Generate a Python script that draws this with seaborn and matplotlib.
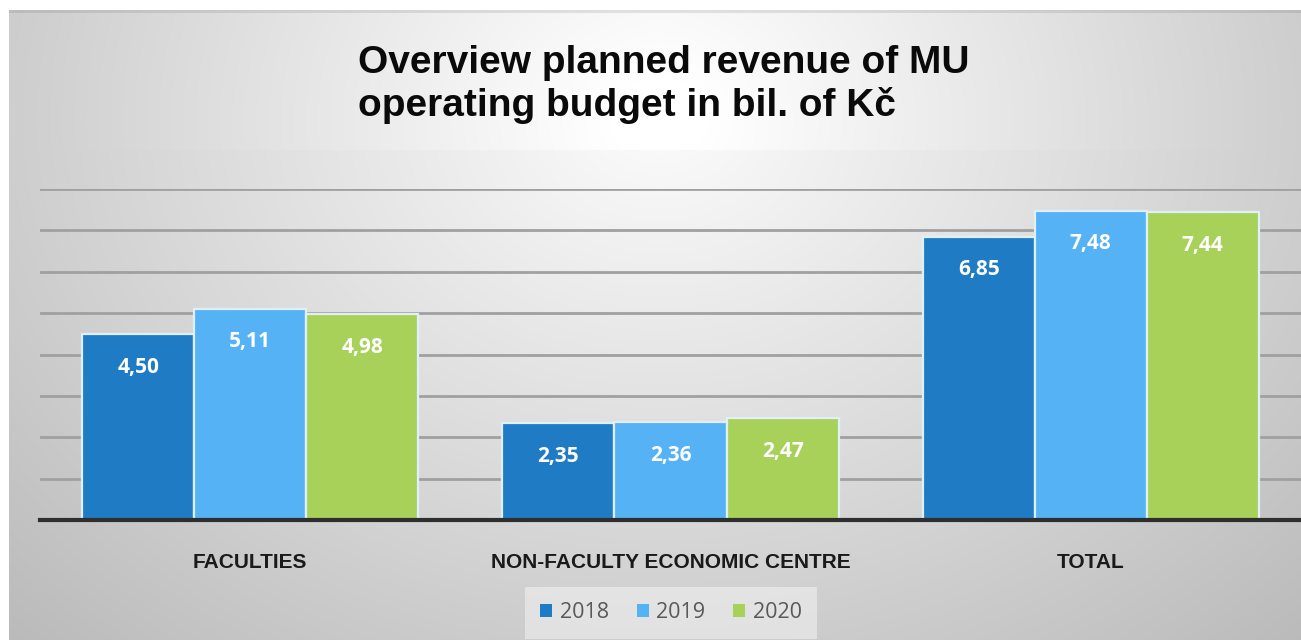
import numpy as np
import pandas as pd
import matplotlib
matplotlib.use("Agg")
import matplotlib.pyplot as plt
import seaborn as sns
from matplotlib.patches import Patch

# ---- data ----
categories = ["FACULTIES", "NON-FACULTY ECONOMIC CENTRE", "TOTAL"]
years = ["2018", "2019", "2020"]
v2018 = [4.50, 2.35, 6.85]
v2019 = [5.11, 2.36, 7.48]
v2020 = [4.98, 2.47, 7.44]
title_lines = ["Overview planned revenue of MU", "operating budget in bil. of Kč"]

colors = ["#1F7BC3", "#55B2F5", "#A8D15A"]

df = pd.DataFrame({
    "category": categories * 3,
    "year": [y for y in years for _ in categories],
    "value": v2018 + v2019 + v2020,
})

sns.set_theme(style="white")
plt.rcParams["font.family"] = ["Liberation Sans", "DejaVu Sans"]

W, H = 1301, 640
fig = plt.figure(figsize=(W / 100, H / 100), dpi=100)
fig.patch.set_facecolor("white")

# ---- background gradient ----
bg = fig.add_axes([9 / W, 0, (W - 9) / W, (H - 10) / H])
bg.set_axis_off()
gh, gw = H - 10, W - 9
yy, xx = np.mgrid[0:gh, 0:gw]
cx, cy = 650, 110
d = np.sqrt(((xx - cx) / 820.0) ** 2 + ((yy - cy) / 640.0) ** 2)
val = 252 - 58 * np.clip(d, 0, 1.25)
band = (yy < 140) & (yy > 2)
hfade = np.clip(1 - np.abs(xx - cx) / 620.0, 0, 1)
val = np.where(band, val + 7 * hfade, val)
val[:3, :] -= 18
val = np.clip(val, 0, 255) / 255.0
img = np.dstack([val, val, val])
bg.imshow(img, aspect="auto", extent=[0, gw, gh, 0], interpolation="bilinear")
bg.set_xlim(0, gw)
bg.set_ylim(gh, 0)

# ---- main axes ----
ax = fig.add_axes([40 / W, 120 / H, (W - 40) / W, 331 / H])
ax.set_facecolor("none")
sns.barplot(data=df, x="category", y="value", hue="year", hue_order=years,
            order=categories, palette=colors, saturation=1, width=0.8,
            edgecolor="#dff0fb", linewidth=1.6, ax=ax, legend=False, zorder=3)

ax.set_xlim(-0.5, 2.5)
ax.set_ylim(0, 8)
ax.set_yticks(np.arange(1, 9))
ax.set_yticklabels([])
ax.yaxis.grid(True, color="#a0a0a0", linewidth=2)
ax.set_axisbelow(True)
for s in ["top", "left", "right"]:
    ax.spines[s].set_visible(False)
ax.spines["bottom"].set_color("#2e2e2e")
ax.spines["bottom"].set_linewidth(3)
ax.spines["bottom"].set_zorder(5)
ax.set_xlabel("")
ax.set_ylabel("")
ax.tick_params(axis="x", length=0, pad=24)
ax.tick_params(axis="y", length=0)
for lab in ax.get_xticklabels():
    lab.set_fontweight("bold")
    lab.set_fontsize(15)
    lab.set_color("#1a1a1a")

# value labels
for cont in ax.containers:
    for p in cont.patches:
        h = p.get_height()
        ax.annotate(f"{h:.2f}".replace(".", ","),
                    (p.get_x() + p.get_width() / 2, h),
                    xytext=(0, -24), textcoords="offset points",
                    ha="center", va="center", color="white",
                    fontsize=15, fontweight="bold", zorder=6,
                    family=["Open Sans", "DejaVu Sans"])

# title
fig.text(358 / W, 1 - 45 / H, "\n".join(title_lines), ha="left", va="top",
         fontsize=28, fontweight="bold", color="#0a0a0a", linespacing=1.22)

# legend
handles = [Patch(facecolor=c, edgecolor="none") for c in colors]
leg = fig.legend(handles, years, loc="center", bbox_to_anchor=(671 / W, 1 - 613 / H),
                 ncol=3, frameon=True, handlelength=0.55, handleheight=0.55,
                 handletextpad=0.35, columnspacing=1.3, borderpad=0.7,
                 prop={"family": ["Open Sans", "DejaVu Sans"], "size": 15.5})
leg.get_frame().set_facecolor("#f0f0f0")
leg.get_frame().set_alpha(0.6)
leg.get_frame().set_edgecolor("none")
leg.get_frame().set_boxstyle("square", pad=0)
for t in leg.get_texts():
    t.set_color("#595959")

fig.savefig("out.png", dpi=100, facecolor="white")
